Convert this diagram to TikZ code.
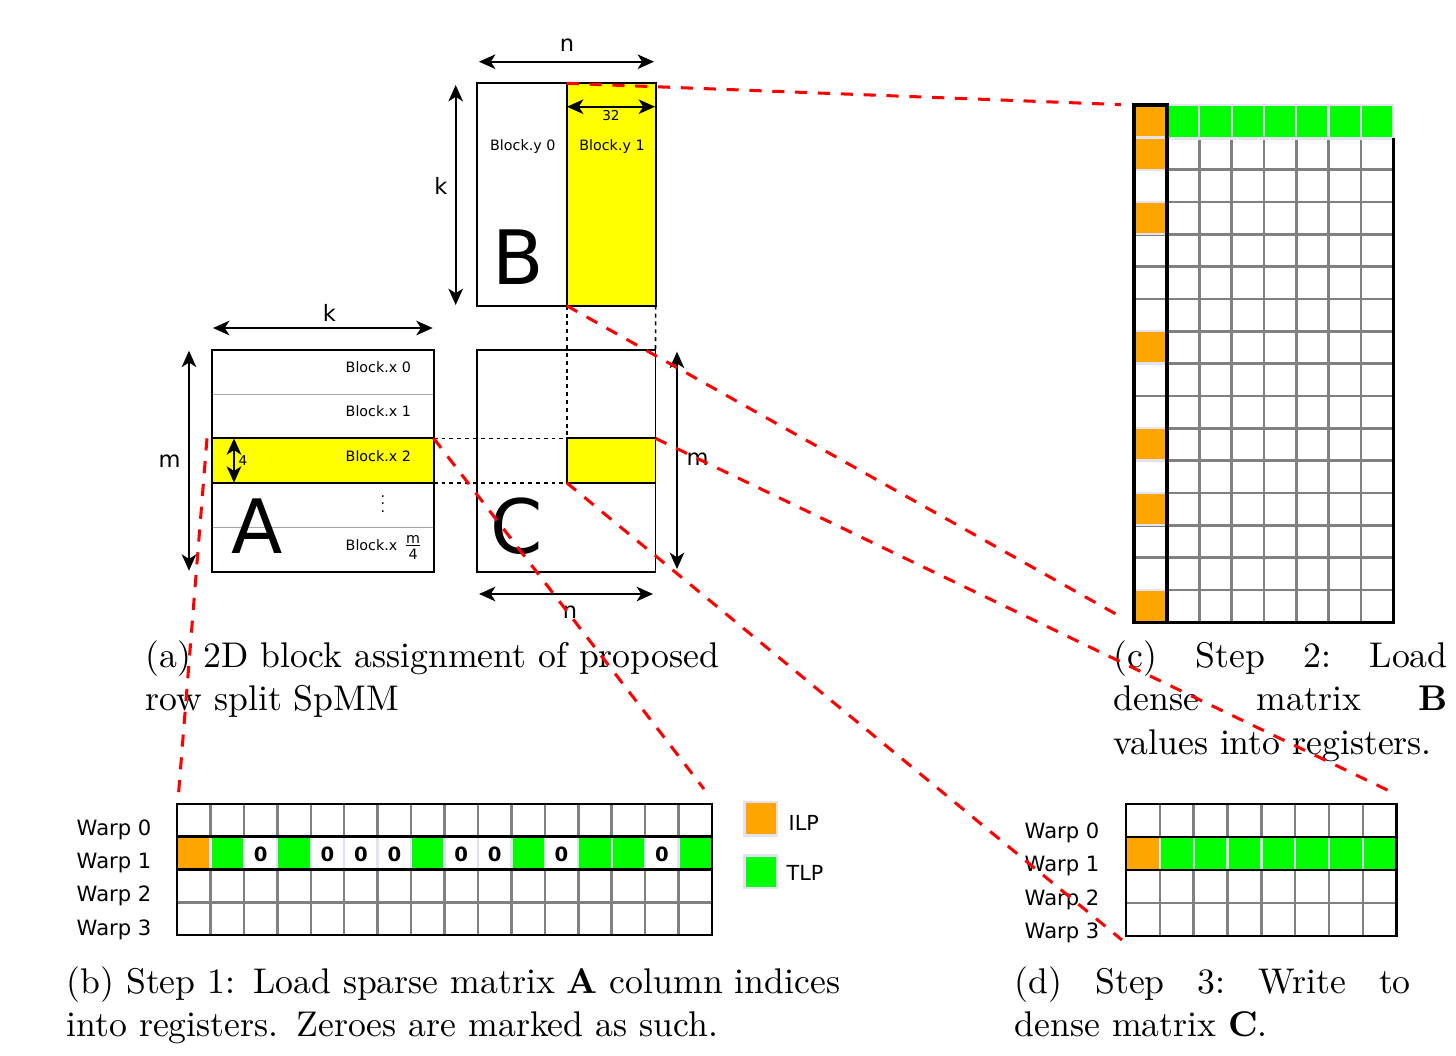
\documentclass[tikz,border=0pt]{standalone}
\usepackage{amsmath}
\usepackage{fontspec}
\usepackage{tikz}
\usetikzlibrary{arrows.meta}
\newfontfamily\figfont{DejaVu Sans}

\definecolor{selyellow}{HTML}{FFFF00}
\definecolor{ilporange}{HTML}{FFA500}
\definecolor{tlpgreen}{HTML}{00FF00}
\definecolor{cellrim}{HTML}{E2E2F2}
\definecolor{gridgray}{HTML}{808080}

\begin{document}
\begin{tikzpicture}[x=0.28pt,y=-0.28pt,
    matline/.style={line width=0.55pt},
    rowline/.style={line width=0.35pt,color=black!35},
    guide/.style={line width=0.45pt,dash pattern=on 1.1pt off 1.1pt},
    zoomline/.style={red,line width=0.85pt,dash pattern=on 3.4pt off 3pt},
    dimarrow/.style={line width=0.45pt,
      {Stealth[length=4.6pt,width=4.1pt,inset=1.3pt]}-{Stealth[length=4.6pt,width=4.1pt,inset=1.3pt]}},
    dimlabel/.style={font=\figfont\fontsize{6.3}{7}\selectfont,inner sep=0pt},
    blocklabel/.style={font=\figfont\fontsize{4}{5}\selectfont,inner sep=0pt},
    smalllabel/.style={font=\figfont\fontsize{3.8}{4.5}\selectfont,inner sep=0pt},
    bigletter/.style={font=\figfont\fontsize{21}{24}\selectfont,inner sep=0pt},
    warplabel/.style={font=\figfont\fontsize{5.9}{7}\selectfont,inner sep=0pt,anchor=base east},
    legendlabel/.style={font=\figfont\fontsize{5.8}{7}\selectfont,inner sep=0pt,anchor=base west},
    gridline/.style={gridgray,line width=0.7pt},
    frameline/.style={line width=0.8pt},
    ilpcell/.style={fill=ilporange,draw=cellrim,line width=0.65pt},
    tlpcell/.style={fill=tlpgreen,draw=cellrim,line width=0.65pt},
    zerocell/.style={fill=white,draw=cellrim,line width=0.65pt},
    zerotext/.style={font=\figfont\bfseries\fontsize{5.5}{6}\selectfont,inner sep=0pt},
    caption/.style={anchor=base west,inner sep=0pt,align=left,font=\fontsize{10}{12.3}\selectfont}]
  \useasboundingbox (0,0) rectangle (1456,1055);

  % matrix corners
  \coordinate (bnw) at (477.3,83.3);
  \coordinate (bse) at (655.7,305.7);
  \coordinate (bsel-nw) at (566.7,83.3);
  \coordinate (bsel-sw) at (566.7,305.7);
  \coordinate (anw) at (211.7,350);
  \coordinate (ase) at (433.7,571.7);
  \coordinate (asel-nw) at (211.7,438.3);
  \coordinate (asel-ne) at (433.7,438.3);
  \coordinate (asel-se) at (433.7,482.7);
  \coordinate (cnw) at (477.3,350);
  \coordinate (cse) at (655.5,571.5);
  \coordinate (csel-nw) at (566.7,438.3);
  \coordinate (csel-ne) at (655.5,438.3);
  \coordinate (csel-sw) at (566.7,482.7);
  \coordinate (cne) at (655.5,350);

  % matrix B
  \draw[matline,fill=selyellow]
    (bsel-nw)
    rectangle
    (bse);
  \draw[matline]
    (bnw)
    rectangle
    (bse);
  \node[blocklabel,anchor=base] (by0) at (522.8,150.5) {Block.y 0};
  \node[blocklabel,anchor=base] (by1) at (612,150.5) {Block.y 1};
  \node[bigletter] (bname) at (517.8,257.5) {B};

  % matrix A
  \draw[matline,fill=selyellow]
    (asel-nw)
    rectangle
    (asel-se);
  \draw[rowline]
    (211.7,394.3)
    --
    (433.7,394.3);
  \draw[rowline]
    (211.7,527.3)
    --
    (433.7,527.3);
  \draw[matline]
    (anw)
    rectangle
    (ase);
  \node[blocklabel,anchor=base west] (bx0) at (345,372.3) {Block.x 0};
  \node[blocklabel,anchor=base west] (bx1) at (345,416.7) {Block.x 1};
  \node[blocklabel,anchor=base west] (bx2) at (345,461) {Block.x 2};
  \node[blocklabel] (bxdots) at (383,504)
    {\vbox{\baselineskip=2.1pt\lineskiplimit=-5pt\hbox{.}\hbox{.}\hbox{.}}};
  \node[blocklabel,anchor=base west] (bxlast) at (345,550) {Block.x \(\frac{\hbox{m}}{\hbox{4}}\)};
  \node[bigletter] (aname) at (257.5,525.8) {A};

  % matrix C
  \draw[matline,fill=selyellow]
    (csel-nw)
    rectangle
    (cse |- csel-sw);
  \draw[matline]
    (cnw)
    rectangle
    (cse);
  \node[bigletter] (cname) at (516.7,526) {C};

  % guides between the matrices
  \draw[guide]
    (bsel-sw)
    --
    (csel-nw);
  \draw[guide]
    (bse)
    --
    (cne);
  \draw[guide]
    (asel-ne)
    --
    (csel-nw);
  \draw[guide]
    (asel-se)
    --
    (csel-sw);

  % dimensions
  \coordinate (bn-l) at (479,61.7);
  \coordinate (bn-r) at (654,61.7);
  \coordinate (bk-t) at (455.7,85);
  \coordinate (bk-b) at (455.7,305);
  \coordinate (b32-l) at (567,106.7);
  \coordinate (b32-r) at (655,106.7);
  \coordinate (ak-l) at (213,328);
  \coordinate (ak-r) at (432.7,328);
  \coordinate (am-t) at (189,350.7);
  \coordinate (am-b) at (189,570.7);
  \coordinate (a4-t) at (234,438.3);
  \coordinate (a4-b) at (234,482.7);
  \coordinate (cn-l) at (479,594);
  \coordinate (cn-r) at (653,594);
  \coordinate (cm-t) at (677,351.7);
  \coordinate (cm-b) at (677,569);
  \draw[dimarrow] (bn-l) -- (bn-r);
  \draw[dimarrow] (bk-t) -- (bk-b);
  \draw[dimarrow] (b32-l) -- (b32-r);
  \draw[dimarrow] (ak-l) -- (ak-r);
  \draw[dimarrow] (am-t) -- (am-b);
  \draw[dimarrow] (a4-t) -- (a4-b);
  \draw[dimarrow] (cn-l) -- (cn-r);
  \draw[dimarrow] (cm-t) -- (cm-b);
  \node[dimlabel] (bn) at (567,45.6) {n};
  \node[dimlabel] (bk) at (441,186) {k};
  \node[smalllabel] (b32) at (611,115.3) {32};
  \node[dimlabel] (ak) at (329.5,312.5) {k};
  \node[dimlabel] (am) at (169.5,461.5) {m};
  \node[smalllabel] (a4) at (243,461) {4};
  \node[dimlabel] (cn) at (570,611.7) {n};
  \node[dimlabel] (cm) at (697.7,459) {m};

  % registers for B (step 2)
  \foreach \j in {2,...,15}
    \draw[gridline] (1134,{105+32.33*\j}) -- (1393.3,{105+32.33*\j});
  \foreach \i in {1,...,6}
    \draw[gridline] ({1167+32.33*\i},138.3) -- ({1167+32.33*\i},622.3);
  \foreach \i in {0,...,6}
    \draw[tlpcell] ({1167+32.33*\i},105) rectangle ++(32.33,33.33);
  \foreach \j in {0,1,3,7,10,12,15}
    \draw[ilpcell] (1134,{105+32.33*\j}) rectangle ++(33,32.33);
  \coordinate (cgrid-nw) at (1134,105);
  \coordinate (cgrid-sw) at (1134,622.3);
  \draw[line width=0.95pt]
    (cgrid-nw)
    rectangle
    (1167,622.3);
  \draw[frameline]
    (1393.3,138.3)
    --
    (1393.3,622.3)
    --
    (1167,622.3);

  % registers for A (step 1)
  \foreach \i in {1,...,15}
    \draw[gridline] ({177+33.44*\i},804) -- ({177+33.44*\i},935);
  \draw[gridline] (177,902.25) -- (712,902.25);
  \foreach \i/\kind in {0/ilpcell,1/tlpcell,2/zerocell,3/tlpcell,4/zerocell,5/zerocell,
      6/zerocell,7/tlpcell,8/zerocell,9/zerocell,10/tlpcell,11/zerocell,12/tlpcell,
      13/tlpcell,14/zerocell,15/tlpcell}
    \draw[\kind] ({177+33.44*\i},836.75) rectangle ++(33.44,32.75);
  \foreach \i in {2,4,5,6,8,9,11,14}
    \node[zerotext] (zero\i) at ({177+33.44*(\i+0.5)},854) {0};
  \draw[frameline]
    (177,804)
    rectangle
    (712,935);
  \draw[frameline]
    (177,836.75)
    --
    (712,836.75);
  \draw[frameline]
    (177,869.5)
    --
    (712,869.5);
  \foreach \w/\yb in {0/835,1/868.3,2/901.7,3/935}
    \node[warplabel] (bwarp\w) at (152,\yb) {Warp \w};

  % legend
  \draw[fill=ilporange,draw=cellrim,line width=0.8pt]
    (744.5,802)
    rectangle
    (777,835.5);
  \draw[fill=tlpgreen,draw=cellrim,line width=0.8pt]
    (744.5,855.5)
    rectangle
    (777,888);
  \node[legendlabel] (ilp) at (788,830.7) {ILP};
  \node[legendlabel] (tlp) at (786,880.7) {TLP};

  % registers for C (step 3)
  \foreach \i in {1,...,7}
    \draw[gridline] ({1126+33.84*\i},804) -- ({1126+33.84*\i},936);
  \draw[gridline] (1126,903) -- (1396.7,903);
  \draw[ilpcell] (1126,837) rectangle ++(33.84,33);
  \foreach \i in {1,...,7}
    \draw[tlpcell] ({1126+33.84*\i},837) rectangle ++(33.84,33);
  \draw[frameline]
    (1126,804)
    rectangle
    (1396.7,936);
  \draw[frameline]
    (1126,837)
    --
    (1396.7,837);
  \draw[frameline]
    (1126,870)
    --
    (1396.7,870);
  \foreach \w/\yb in {0/838.3,1/871.7,2/905,3/938.3}
    \node[warplabel] (dwarp\w) at (1100,\yb) {Warp \w};

  % captions
  \node[caption,text width=168pt] (capa) at (145,667)
    {(a) 2D block assignment of proposed\\row split SpMM};
  \node[caption,text width=224pt] (capb) at (66,993)
    {(b) Step 1: Load sparse matrix \textbf{A} column indices\\into registers. Zeroes are marked as such.};
  \node[caption,text width=94pt] (capc) at (1113,667)
    {\makebox[93.5pt][s]{(c)\hfill Step\hfill 2:\hfill Load}\\\makebox[93.5pt][s]{dense\hfill matrix\hfill \textbf{B}}\\values into registers.};
  \node[caption,text width=111pt] (capd) at (1014,993)
    {\makebox[110.9pt][s]{(d)\hfill Step\hfill 3:\hfill Write\hfill to}\\dense matrix \textbf{C}.};

  % zoom lines
  \coordinate (cgrid-top) at (1121,104.6);
  \coordinate (cgrid-bot) at (1123,618);
  \coordinate (dgrid-top) at (1393,792.7);
  \coordinate (dgrid-bot) at (1122,940);
  \coordinate (bgrid-top) at (704,789);
  \coordinate (bgrid-nw) at (178.3,796.7);
  \coordinate (asel-out) at (207,438.3);
  \draw[zoomline]
    (bsel-nw)
    --
    (cgrid-top);
  \draw[zoomline]
    (bsel-sw)
    --
    (cgrid-bot);
  \draw[zoomline]
    (csel-ne)
    --
    (dgrid-top);
  \draw[zoomline]
    (csel-sw)
    --
    (dgrid-bot);
  \draw[zoomline]
    (asel-ne)
    --
    (bgrid-top);
  \draw[zoomline]
    (asel-out)
    --
    (bgrid-nw);
\end{tikzpicture}
\end{document}
